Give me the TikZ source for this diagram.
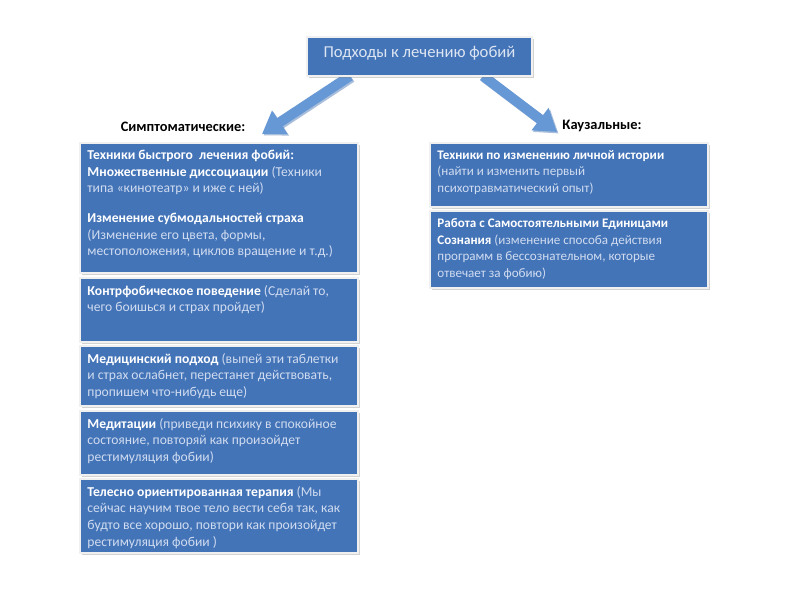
\documentclass[tikz,border=0pt]{standalone}
\usepackage{fontspec}
\setmainfont{Carlito}
\usetikzlibrary{arrows.meta,shadows,fit,calc}
\definecolor{boxblue}{HTML}{4474B8}
\definecolor{lighttext}{HTML}{D0DCF0}
\definecolor{arrowblue}{HTML}{6798D6}
\definecolor{arrowshade}{HTML}{3F6FAE}
\definecolor{titletext}{HTML}{DCE5F2}
\newcommand\bt[1]{\textbf{\color{white}#1}}
\tikzset{
  panel/.style={draw=white!88!gray, line width=1.2pt, fill=boxblue, inner sep=0pt,
    drop shadow={shadow xshift=1.6pt, shadow yshift=-1.6pt, opacity=0.35}},
  body/.style={anchor=north west, align=left, text=lighttext, inner sep=0pt,
    font=\fontsize{10.2}{12.4}\selectfont},
  rbody/.style={body, font=\fontsize{9.8}{12.4}\selectfont},
  heading/.style={font=\bfseries\fontsize{10.8}{12}\selectfont, text=black, inner sep=0pt},
  bigarrow/.style={line width=7.5pt, arrowblue, -{Triangle[length=16pt,width=20pt]}},
  arrowshadow/.style={line width=7.5pt, arrowshade, opacity=0.45, -{Triangle[length=16pt,width=20pt]}}
}
\begin{document}
\begin{tikzpicture}[x=0.75pt,y=-0.75pt]
\useasboundingbox[fill=white] (0,0) rectangle (800,600);

% boxes
\node[panel, fit={(80,143)(358,273)}] (L1) {};
\node[panel, fit={(80,278)(358,342)}] (L2) {};
\node[panel, fit={(80,346)(358,406)}] (L3) {};
\node[panel, fit={(80,411)(358,475)}] (L4) {};
\node[panel, fit={(80,479)(358,553)}] (L5) {};
\node[panel, fit={(430,143)(708,207)}] (R1) {};
\node[panel, fit={(430,211)(708,288)}] (R2) {};

% headings
\node[heading] (hs) at (183,127) {Симптоматические:};
\node[heading] (hc) at (602,126) {Каузальные:};

% arrows
\coordinate (ls) at (350,76);
\coordinate (lt) at (262,134);
\coordinate (rs) at (483,76);
\coordinate (rt) at (557,132);
\draw[arrowshadow] ($(ls)+(1.5,1.5)$) -- ($(lt)+(1.5,1.5)$);
\draw[arrowshadow] ($(rs)+(1.5,1.5)$) -- ($(rt)+(1.5,1.5)$);
\draw[bigarrow] (ls) -- (lt);
\draw[bigarrow] (rs) -- (rt);

% top box
\node[panel, fit={(307,37)(532,76)}] (top) {};
\node[text=titletext, font=\fontsize{12.5}{14}\selectfont, inner sep=0pt] (title) at (419.5,53) {Подходы к лечению фобий};

% texts
\node[body] (t1) at ($(L1.north west)+(8,8)$) {\bt{Техники быстрого\ \ лечения фобий:}\\
\bt{Множественные диссоциации} (Техники\\
типа «кинотеатр» и иже с ней)\\[10pt]
\bt{Изменение субмодальностей страха}\\
(Изменение его цвета, формы,\\
местоположения, циклов вращение и т.д.)};
\node[body] (t2) at ($(L2.north west)+(8,8)$) {\bt{Контрфобическое поведение} (Сделай то,\\
чего боишься и страх пройдет)};
\node[body] (t3) at ($(L3.north west)+(8,8)$) {\bt{Медицинский подход} (выпей эти таблетки\\
и страх ослабнет, перестанет действовать,\\
пропишем что-нибудь еще)};
\node[body] (t4) at ($(L4.north west)+(8,8)$) {\bt{Медитации} (приведи психику в спокойное\\
состояние, повторяй как произойдет\\
рестимуляция фобии)};
\node[body] (t5) at ($(L5.north west)+(8,8)$) {\bt{Телесно ориентированная терапия} (Мы\\
сейчас научим твое тело вести себя так, как\\
будто все хорошо, повтори как произойдет\\
рестимуляция фобии )};
\node[rbody] (t6) at ($(R1.north west)+(8,8)$) {\bt{Техники по изменению личной истории}\\
(найти и изменить первый\\
психотравматический опыт)};
\node[rbody] (t7) at ($(R2.north west)+(8,8)$) {\bt{Работа с Самостоятельными Единицами}\\
\bt{Сознания} (изменение способа действия\\
программ в бессознательном, которые\\
отвечает за фобию)};
\end{tikzpicture}
\end{document}
